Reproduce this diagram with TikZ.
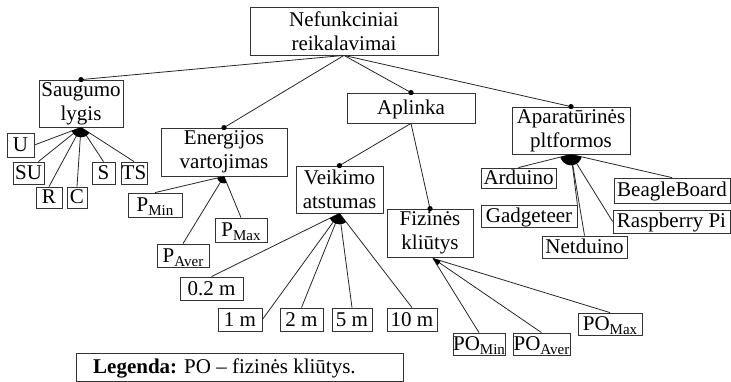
\documentclass[tikz,border=0pt]{standalone}
\usepackage{fontspec}
\setmainfont{Liberation Serif}
\newcommand\boxfont{\fontsize{21}{24}\selectfont}
\newcommand\lowsub[1]{\raisebox{-0.2em}{\fontsize{15}{15}\selectfont #1}}
\begin{document}
\begin{tikzpicture}[x=1pt,y=-1pt,
  feat/.style={draw=black!80, line width=0.8pt, inner sep=0pt, font=\boxfont, align=center},
  one/.style={feat, text height=15pt, text depth=2pt},
  link/.style={line width=0.8pt, draw=black!85},
  mand/.style={fill=black},
  orfan/.style={fill=black}]
\useasboundingbox (0,0) rectangle (731,382);

% root and first level
\node[feat, minimum width=188pt, minimum height=48pt] (root) at (344,31) {Nefunkciniai\\reikalavimai};
\node[feat, minimum width=84pt, minimum height=47pt] (saug) at (81,103.5) {Saugumo\\lygis};
\node[feat, minimum width=126pt, minimum height=48pt] (energ) at (224,152) {Energijos\\vartojimas};
\node[one, minimum width=128pt, minimum height=30pt] (apl) at (411,108) {Aplinka};
\node[feat, minimum width=118pt, minimum height=47pt] (apar) at (571,130.5) {Aparatūrinės\\pltformos};
\node[feat, minimum width=87pt, minimum height=47pt] (veik) at (339.5,189.5) {Veikimo\\atstumas};
\node[feat, minimum width=86pt, minimum height=48pt] (fiz) at (430,233) {Fizinės\\kliūtys};

% security levels
\node[one, minimum width=27pt, minimum height=24pt] (u) at (20.5,145) {U};
\node[one, minimum width=31pt, minimum height=22pt] (su) at (28.5,173) {SU};
\node[one, minimum width=26pt, minimum height=21pt] (r) at (49,197.5) {R};
\node[one, minimum width=20pt, minimum height=21pt] (c) at (77,197.5) {C};
\node[one, minimum width=23pt, minimum height=22pt] (s) at (103.5,173) {S};
\node[one, minimum width=26pt, minimum height=22pt] (ts) at (134,173) {TS};

% power consumption
\node[one, minimum width=54pt, minimum height=24pt] (pmin) at (155,205) {P\lowsub{Min}};
\node[one, minimum width=52pt, minimum height=23pt] (paver) at (183,255.5) {P\lowsub{Aver}};
\node[one, minimum width=52pt, minimum height=24pt] (pmax) at (241,230) {P\lowsub{Max}};

% operating range
\node[one, minimum width=63pt, minimum height=23pt] (d02) at (211.5,288.5) {0.2 m};
\node[one, minimum width=44pt, minimum height=23pt] (d1) at (240,319.5) {1 m};
\node[one, minimum width=43pt, minimum height=23pt] (d2) at (301.5,319.5) {2 m};
\node[one, minimum width=40pt, minimum height=23pt] (d5) at (352,319.5) {5 m};
\node[one, minimum width=50pt, minimum height=23pt] (d10) at (412,319.5) {10 m};

% physical obstacles
\node[one, minimum width=52pt, minimum height=22pt] (pomin) at (479,344) {PO\lowsub{Min}};
\node[one, minimum width=57pt, minimum height=22pt] (poaver) at (541.5,344) {PO\lowsub{Aver}};
\node[one, minimum width=64pt, minimum height=22pt] (pomax) at (610,324) {PO\lowsub{Max}};

% hardware platforms
\node[one, minimum width=75pt, minimum height=20pt] (ard) at (518.5,178) {Arduino};
\node[one, minimum width=116pt, minimum height=25pt] (bb) at (672,190.5) {BeagleBoard};
\node[one, minimum width=96pt, minimum height=22pt] (gad) at (529,216) {Gadgeteer};
\node[one, minimum width=117pt, minimum height=23pt] (rpi) at (671.5,221.5) {Raspberry Pi};
\node[one, minimum width=85pt, minimum height=22pt] (net) at (584.5,247) {Netduino};

% mandatory children
\foreach \ch in {saug,energ,apl,apar}
  \draw[link] (root.south) -- (\ch.north);
\foreach \ch in {veik,fiz}
  \draw[link] (apl.south) -- (\ch.north);
\foreach \ch in {saug,energ,apl,apar,veik,fiz}
  \fill[mand] (\ch.north) circle (2.6pt);

% or-groups: fan of lines plus a filled sector
\draw[link] (saug.south) -- (u.east);
\draw[link] (saug.south) -- ([xshift=-6pt]su.north east);
\foreach \ch in {r,c,s,ts} \draw[link] (saug.south) -- (\ch.north);
\begin{scope}
  \clip (saug.south) -- (u.east) -- ([xshift=-6pt]su.north east) -- (r.north) -- (c.north) -- (s.north) -- (ts.north) -- cycle;
  \fill[orfan] (saug.south) circle (10pt);
\end{scope}

\foreach \ch in {pmin,paver,pmax} \draw[link] (energ.south) -- (\ch.north);
\begin{scope}
  \clip (energ.south) -- (pmin.north) -- (paver.north) -- (pmax.north) -- cycle;
  \fill[orfan] (energ.south) circle (7pt);
\end{scope}

\draw[link] (veik.south) -- (d02.north);
\draw[link] (veik.south) -- (d1.east);
\foreach \ch in {d2,d5,d10} \draw[link] (veik.south) -- (\ch.north);
\begin{scope}
  \clip (veik.south) -- (d02.north) -- (d1.east) -- (d2.north) -- (d5.north) -- (d10.north) -- cycle;
  \fill[orfan] (veik.south) circle (11pt);
\end{scope}

\coordinate (fizb) at ([xshift=3pt,yshift=-1pt]fiz.south);
\foreach \ch in {pomin,poaver,pomax} \draw[link] (fizb) -- (\ch.north);
\begin{scope}
  \clip (fizb) -- (pomin.north) -- (poaver.north) -- (pomax.north) -- cycle;
  \fill[orfan] (fizb) circle (8pt);
\end{scope}

\draw[link] (apar.south) -- (ard.north);
\draw[link] (apar.south) -- (bb.north);
\draw[link] (apar.south) -- (gad.north east);
\draw[link] (apar.south) -- (net.north);
\draw[link] (apar.south) -- (rpi.west);
\begin{scope}
  \clip (apar.south) -- (ard.north) -- (gad.north east) -- (net.north) -- (rpi.west) -- (bb.north) -- cycle;
  \fill[orfan] (apar.south) circle (11pt);
\end{scope}

% legend
\node[draw=black!80, line width=0.8pt, minimum width=327pt, minimum height=28pt, inner sep=0pt] (legend) at (239.5,367.5) {};
\node[anchor=base west, inner sep=0pt, font=\boxfont] (legendtext) at (93,373) {\textbf{Legenda:} PO – fizinės kliūtys.};
\end{tikzpicture}
\end{document}
